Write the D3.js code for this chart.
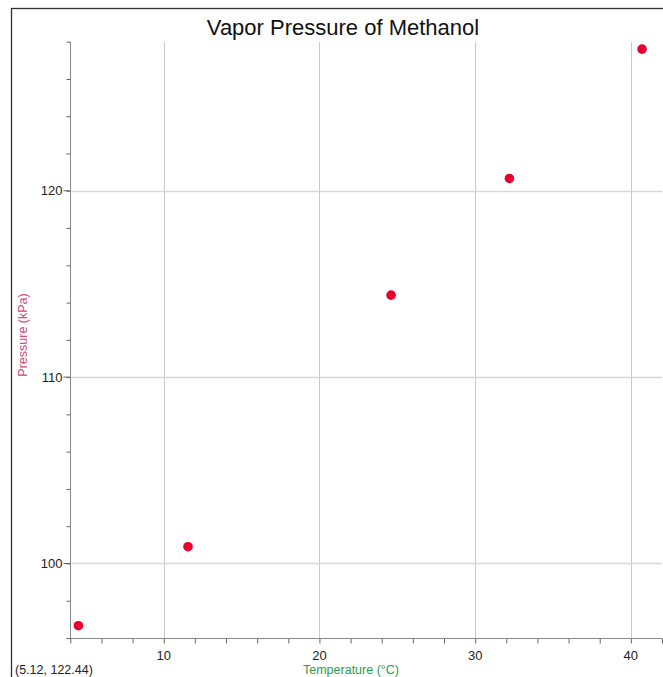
<!DOCTYPE html>
<html><head><meta charset="utf-8">
<script src="https://cdn.jsdelivr.net/npm/d3@7"></script>
<style>
body{margin:0;background:#fff;}
svg{display:block;font-family:"Liberation Sans",Arial,sans-serif;}
</style></head>
<body><svg id="c" width="663" height="677"></svg>
<script>
const temperature = [4.52, 11.56, 24.6, 32.2, 40.72];
const pressure = [96.66, 100.9, 114.4, 120.66, 127.6];
const xTicks = [10, 20, 30, 40];
const yTicks = [100, 110, 120];
const xMinor = d3.range(4, 42.01, 2);
const yMinor = d3.range(96, 128.01, 2);
const title = "Vapor Pressure of Methanol";
const xLabel = "Temperature (°C)";
const yLabel = "Pressure (kPa)";
const readout = "(5.12, 122.44)";

const svg = d3.select("#c");
const x = d3.scaleLinear().domain([4, 42]).range([70.3, 662]);
const y = d3.scaleLinear().domain([96, 128]).range([638, 41.7]);

// frame
svg.append("rect").attr("x", 11.5).attr("y", 8.5).attr("width", 700).attr("height", 700)
  .attr("fill", "none").attr("stroke", "#333").attr("stroke-width", 1.3);

// grid
svg.append("g").selectAll("line").data(xTicks).join("line")
  .attr("x1", d => Math.round(x(d)) + 0.5).attr("x2", d => Math.round(x(d)) + 0.5)
  .attr("y1", y(128)).attr("y2", y(96)).attr("stroke", "#c8c8c8");
svg.append("g").selectAll("line").data(yTicks).join("line")
  .attr("y1", d => Math.round(y(d)) + 0.5).attr("y2", d => Math.round(y(d)) + 0.5)
  .attr("x1", x(4)).attr("x2", 662).attr("stroke", "#d8d8d8").attr("stroke-width", 1.5);

// x axis
const xAxis = svg.append("g").attr("transform", `translate(0,${Math.round(y(96)) + 0.5})`);
xAxis.call(d3.axisBottom(x).tickValues(xMinor).tickSize(5).tickFormat(""))
  .call(g => g.select(".domain").remove());
xAxis.selectAll("line").attr("stroke", "#666");
xAxis.append("line").attr("x1", x(4)).attr("x2", 662).attr("stroke", "#888");
xAxis.selectAll("text.lab").data(xTicks).join("text").attr("class", "lab")
  .attr("x", d => x(d)).attr("y", 21).attr("text-anchor", "middle")
  .attr("font-size", 13).attr("fill", "#222").text(d => d);

// y axis
const yAxis = svg.append("g").attr("transform", `translate(${Math.round(x(4)) + 0.5},0)`);
yAxis.call(d3.axisLeft(y).tickValues(yMinor).tickSize(4).tickFormat(""))
  .call(g => g.select(".domain").remove());
yAxis.selectAll("line").attr("stroke", "#666");
yAxis.selectAll("line.major").data(yTicks).join("line").attr("class", "major")
  .attr("x1", -7).attr("x2", 0).attr("y1", d => y(d)).attr("y2", d => y(d)).attr("stroke", "#666");
yAxis.append("line").attr("y1", y(128)).attr("y2", y(96)).attr("stroke", "#888");
yAxis.selectAll("text.lab").data(yTicks).join("text").attr("class", "lab")
  .attr("x", -8).attr("y", d => y(d)).attr("dy", "0.35em").attr("text-anchor", "end")
  .attr("font-size", 13).attr("fill", "#222").text(d => d);

// points
svg.append("g").selectAll("circle").data(temperature.map((t, i) => [t, pressure[i]])).join("circle")
  .attr("cx", d => x(d[0])).attr("cy", d => y(d[1])).attr("r", 4.8).attr("fill", "#e8002e");

// texts
svg.append("text").attr("x", 343).attr("y", 35).attr("text-anchor", "middle")
  .attr("font-size", 22).attr("fill", "#111").text(title);
svg.append("text").attr("x", 351).attr("y", 674).attr("text-anchor", "middle")
  .attr("font-size", 12.5).attr("fill", "#2e9a4e").text(xLabel);
svg.append("text").attr("transform", "translate(27,335) rotate(-90)").attr("text-anchor", "middle")
  .attr("font-size", 12.5).attr("fill", "#d44a78").text(yLabel);
svg.append("text").attr("x", 15).attr("y", 674)
  .attr("font-size", 12.5).attr("fill", "#222").text(readout);
</script></body></html>
